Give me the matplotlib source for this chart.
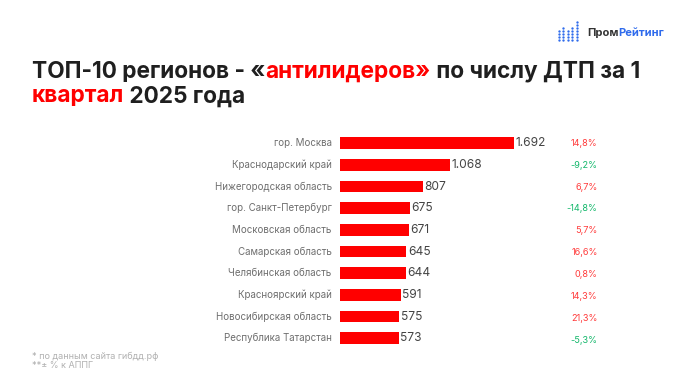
import matplotlib
matplotlib.use("Agg")
import matplotlib.pyplot as plt
import numpy as np

regions = ["гор. Москва", "Краснодарский край", "Нижегородская область", "гор. Санкт-Петербург",
           "Московская область", "Самарская область", "Челябинская область", "Красноярский край",
           "Новосибирская область", "Республика Татарстан"]
values = [1692, 1068, 807, 675, 671, 645, 644, 591, 575, 573]
value_labels = ["1.692", "1.068", "807", "675", "671", "645", "644", "591", "575", "573"]
changes = ["14,8%", "-9,2%", "6,7%", "-14,8%", "5,7%", "16,6%", "0,8%", "14,3%", "21,3%", "-5,3%"]
title_line1 = [("ТОП-10 регионов - «", "#1f1f1f"), ("антилидеров»", "#ff0000"), (" по числу ДТП за 1", "#1f1f1f")]
title_line2 = [("квартал", "#ff0000"), (" 2025 года", "#1f1f1f")]
notes = ["* по данным сайта гибдд.рф", "**± % к АППГ"]
logo_heights = [4, 5, 4, 5, 7]

W, H = 688, 386
FONT = "Inter"
plt.rcParams["font.family"] = [FONT, "DejaVu Sans"]
fig = plt.figure(figsize=(W / 100, H / 100), dpi=100, facecolor="white")

bg = fig.add_axes([0, 0, 1, 1])
bg.set_xlim(0, W); bg.set_ylim(H, 0); bg.axis("off")

L, R, T, B = 340, 560, 132.5, 349
ax = fig.add_axes([L / W, 1 - B / H, (R - L) / W, (B - T) / H])
ax.axis("off")
y = np.arange(len(values))
ax.barh(y, values, height=0.54, color="#ff0000")
ax.set_ylim(len(values) - 0.5, -0.5)
ax.set_xlim(0, (R - L) / 0.103)
for i, (v, lab, reg, ch) in enumerate(zip(values, value_labels, regions, changes)):
    ax.annotate(lab, (v, i), xytext=(1.0, 0), textcoords="offset points", va="center", ha="left",
                fontsize=8.6, color="#444444")
    ax.annotate(reg, (0, i), xytext=(-6, 0), textcoords="offset points", va="center", ha="right",
                fontsize=7.0, color="#6e6e6e")
    col = "#12b76a" if ch.startswith("-") else "#ff3b3b"
    ax.annotate(ch, (1, i), xycoords=("axes fraction", "data"), xytext=(27, -0.15 * i), textcoords="offset points",
                va="center", ha="right", fontsize=6.6, color=col)

fig.canvas.draw()
r = fig.canvas.get_renderer()
def runs(parts, x, yy, size):
    for s, c in parts:
        t = bg.text(x, yy, s.replace(" ", "\u00a0"), fontsize=size, fontweight="bold", color=c, va="baseline", ha="left")
        x = bg.transData.inverted().transform((t.get_window_extent(r).x1, 0))[0]
    return x
runs(title_line1, 32, 77.5, 16.3)
runs(title_line2, 32, 102.5, 16.3)

bg.text(32, 356.5, notes[0], fontsize=6.5, color="#b0b0b0", va="center")
bg.text(32, 366, notes[1], fontsize=6.5, color="#b0b0b0", va="center")

for i, h in enumerate(logo_heights):
    for j in range(h):
        bg.plot(558.7 + i * 4.5, 39.5 - j * 3.0, "o", ms=1.7, color="#2f6bec", mew=0)
runs([("Пром", "#333333"), ("Рейтинг", "#2f6bec")], 587, 36, 8.0)

fig.savefig("out.png", dpi=100, facecolor="white")
